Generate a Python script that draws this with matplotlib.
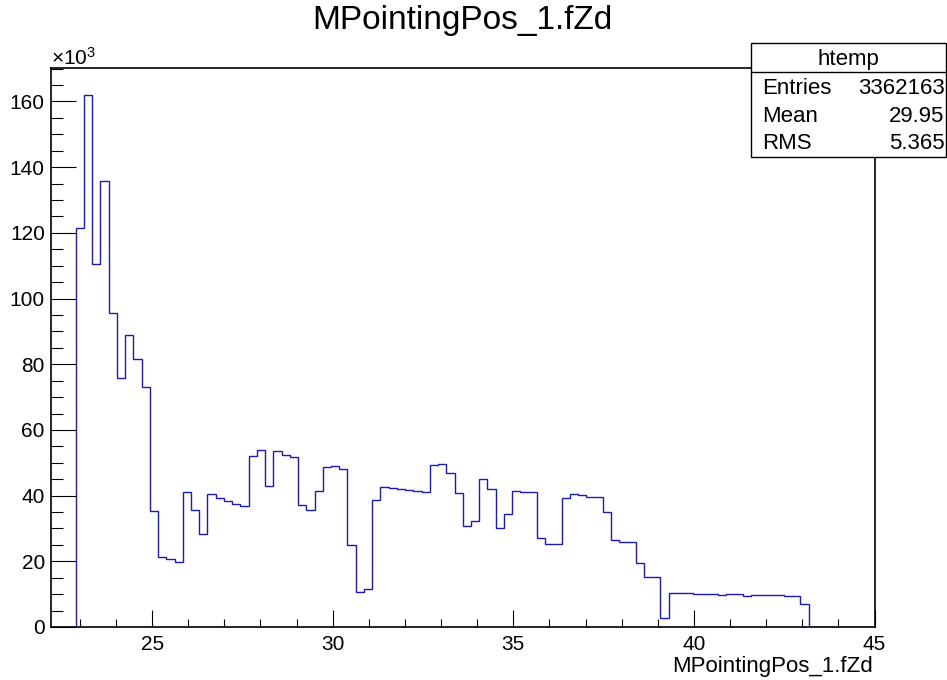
## HISTOGRAMA MPointingPos_1.fZd (estilo ROOT)
import numpy as np
import matplotlib.pyplot as plt
from matplotlib.ticker import MultipleLocator
from matplotlib.patches import Rectangle
from matplotlib.lines import Line2D

plt.rcParams['font.family'] = ['Liberation Sans', 'DejaVu Sans']
plt.rcParams['mathtext.fontset'] = 'custom'
plt.rcParams['mathtext.rm'] = 'Liberation Sans'

# Datos ---------------------------------------
x_min, x_max, n_bins = 22.2, 45.0, 100
# cuentas por bin, en miles (x10^3)
counts_k = [0, 0, 0,
            121.4, 162.0, 110.5, 135.9, 95.6, 75.7, 89.0, 81.7, 73.2, 35.4,
            21.2, 20.7, 19.8, 41.2, 35.5, 28.3, 40.6, 39.3, 38.3, 37.4,
            36.9, 52.0, 53.9, 43.0, 53.7, 52.5, 51.9, 37.2, 35.7, 41.5,
            48.8, 49.0, 48.1, 25.1, 10.7, 11.7, 38.8, 42.5, 42.2, 41.9,
            41.6, 41.3, 41.0, 49.3, 49.6, 47.0, 40.8, 30.7, 32.4, 45.2,
            41.9, 30.0, 34.5, 41.4, 41.2, 41.0, 27.2, 25.3, 25.3, 39.4,
            40.5, 40.2, 39.7, 39.7, 35.1, 26.5, 26.0, 25.8, 19.5, 15.1,
            15.1, 2.7, 10.2, 10.3, 10.2, 10.0, 10.0, 9.9, 9.8, 9.9,
            9.9, 9.5, 9.8, 9.7, 9.7, 9.7, 9.5, 9.4, 6.9,
            0, 0, 0, 0, 0, 0, 0, 0]
hist_name = "htemp"
var_name = "MPointingPos_1.fZd"
stat_names = ["Entries", "Mean", "RMS"]
stat_values = ["3362163", "29.95", "5.365"]
## ---------------------------------------

W, H = 947, 680
fig = plt.figure(figsize=(W / 100, H / 100), dpi=100)

# marco en pixeles
fl, fr, ft, fb = 51.0, 874.5, 68.3, 627.0
ax = fig.add_axes([fl / W, 1 - fb / H, (fr - fl) / W, (fb - ft) / H])

edges = np.linspace(x_min, x_max, n_bins + 1)
ax.stairs(counts_k, edges, color="#1a1ab4", lw=1.0)

ymax = max(counts_k) * 1.05
ax.set_xlim(x_min, x_max)
ax.set_ylim(0, ymax)

ax.xaxis.set_major_locator(MultipleLocator(5))
ax.xaxis.set_minor_locator(MultipleLocator(1))
ax.yaxis.set_major_locator(MultipleLocator(20))
ax.yaxis.set_minor_locator(MultipleLocator(5))
ax.tick_params(axis="x", which="major", direction="in", length=12, width=0.8,
               labelsize=15, pad=5.5)
ax.tick_params(axis="x", which="minor", direction="in", length=6, width=0.8)
ax.tick_params(axis="y", which="major", direction="in", length=18, width=0.8,
               labelsize=15, pad=4.5)
ax.tick_params(axis="y", which="minor", direction="in", length=8.5, width=0.8)
for s in ax.spines.values():
    s.set_linewidth(1.2)

# titulo y etiquetas
fig.text(462 / W, 1 - 29.5 / H, var_name, fontsize=24, ha="center", va="baseline")
fig.text(873.3 / W, 1 - 671.7 / H, var_name, fontsize=16, ha="right", va="baseline")
fig.text(51.0 / W, 1 - 65 / H, r"$\mathregular{\times10^{3}}$", fontsize=15,
         ha="left", va="baseline")

# caja de estadisticas
bx0, bx1, by0, by1, sep = 750.7, 946.0, 43.3, 156.5, 71.7
fig.add_artist(Rectangle((bx0 / W, 1 - by1 / H), (bx1 - bx0) / W, (by1 - by0) / H,
                         transform=fig.transFigure, facecolor="white",
                         edgecolor="black", lw=1.0, zorder=5))
fig.add_artist(Line2D([bx0 / W, bx1 / W], [1 - sep / H, 1 - sep / H],
                      transform=fig.transFigure, color="black", lw=1.0, zorder=6))
fig.text((bx0 + bx1) / 2 / W, 1 - 65 / H, hist_name, fontsize=16,
         ha="center", va="baseline", zorder=7)
row_base = [94.0, 121.7, 149.4]
for name, val, yb in zip(stat_names, stat_values, row_base):
    fig.text(761.7 / W, 1 - yb / H, name, fontsize=16, ha="left", va="baseline", zorder=7)
    fig.text(944.5 / W, 1 - yb / H, val, fontsize=16, ha="right", va="baseline", zorder=7)

fig.savefig("out.png", dpi=100)
